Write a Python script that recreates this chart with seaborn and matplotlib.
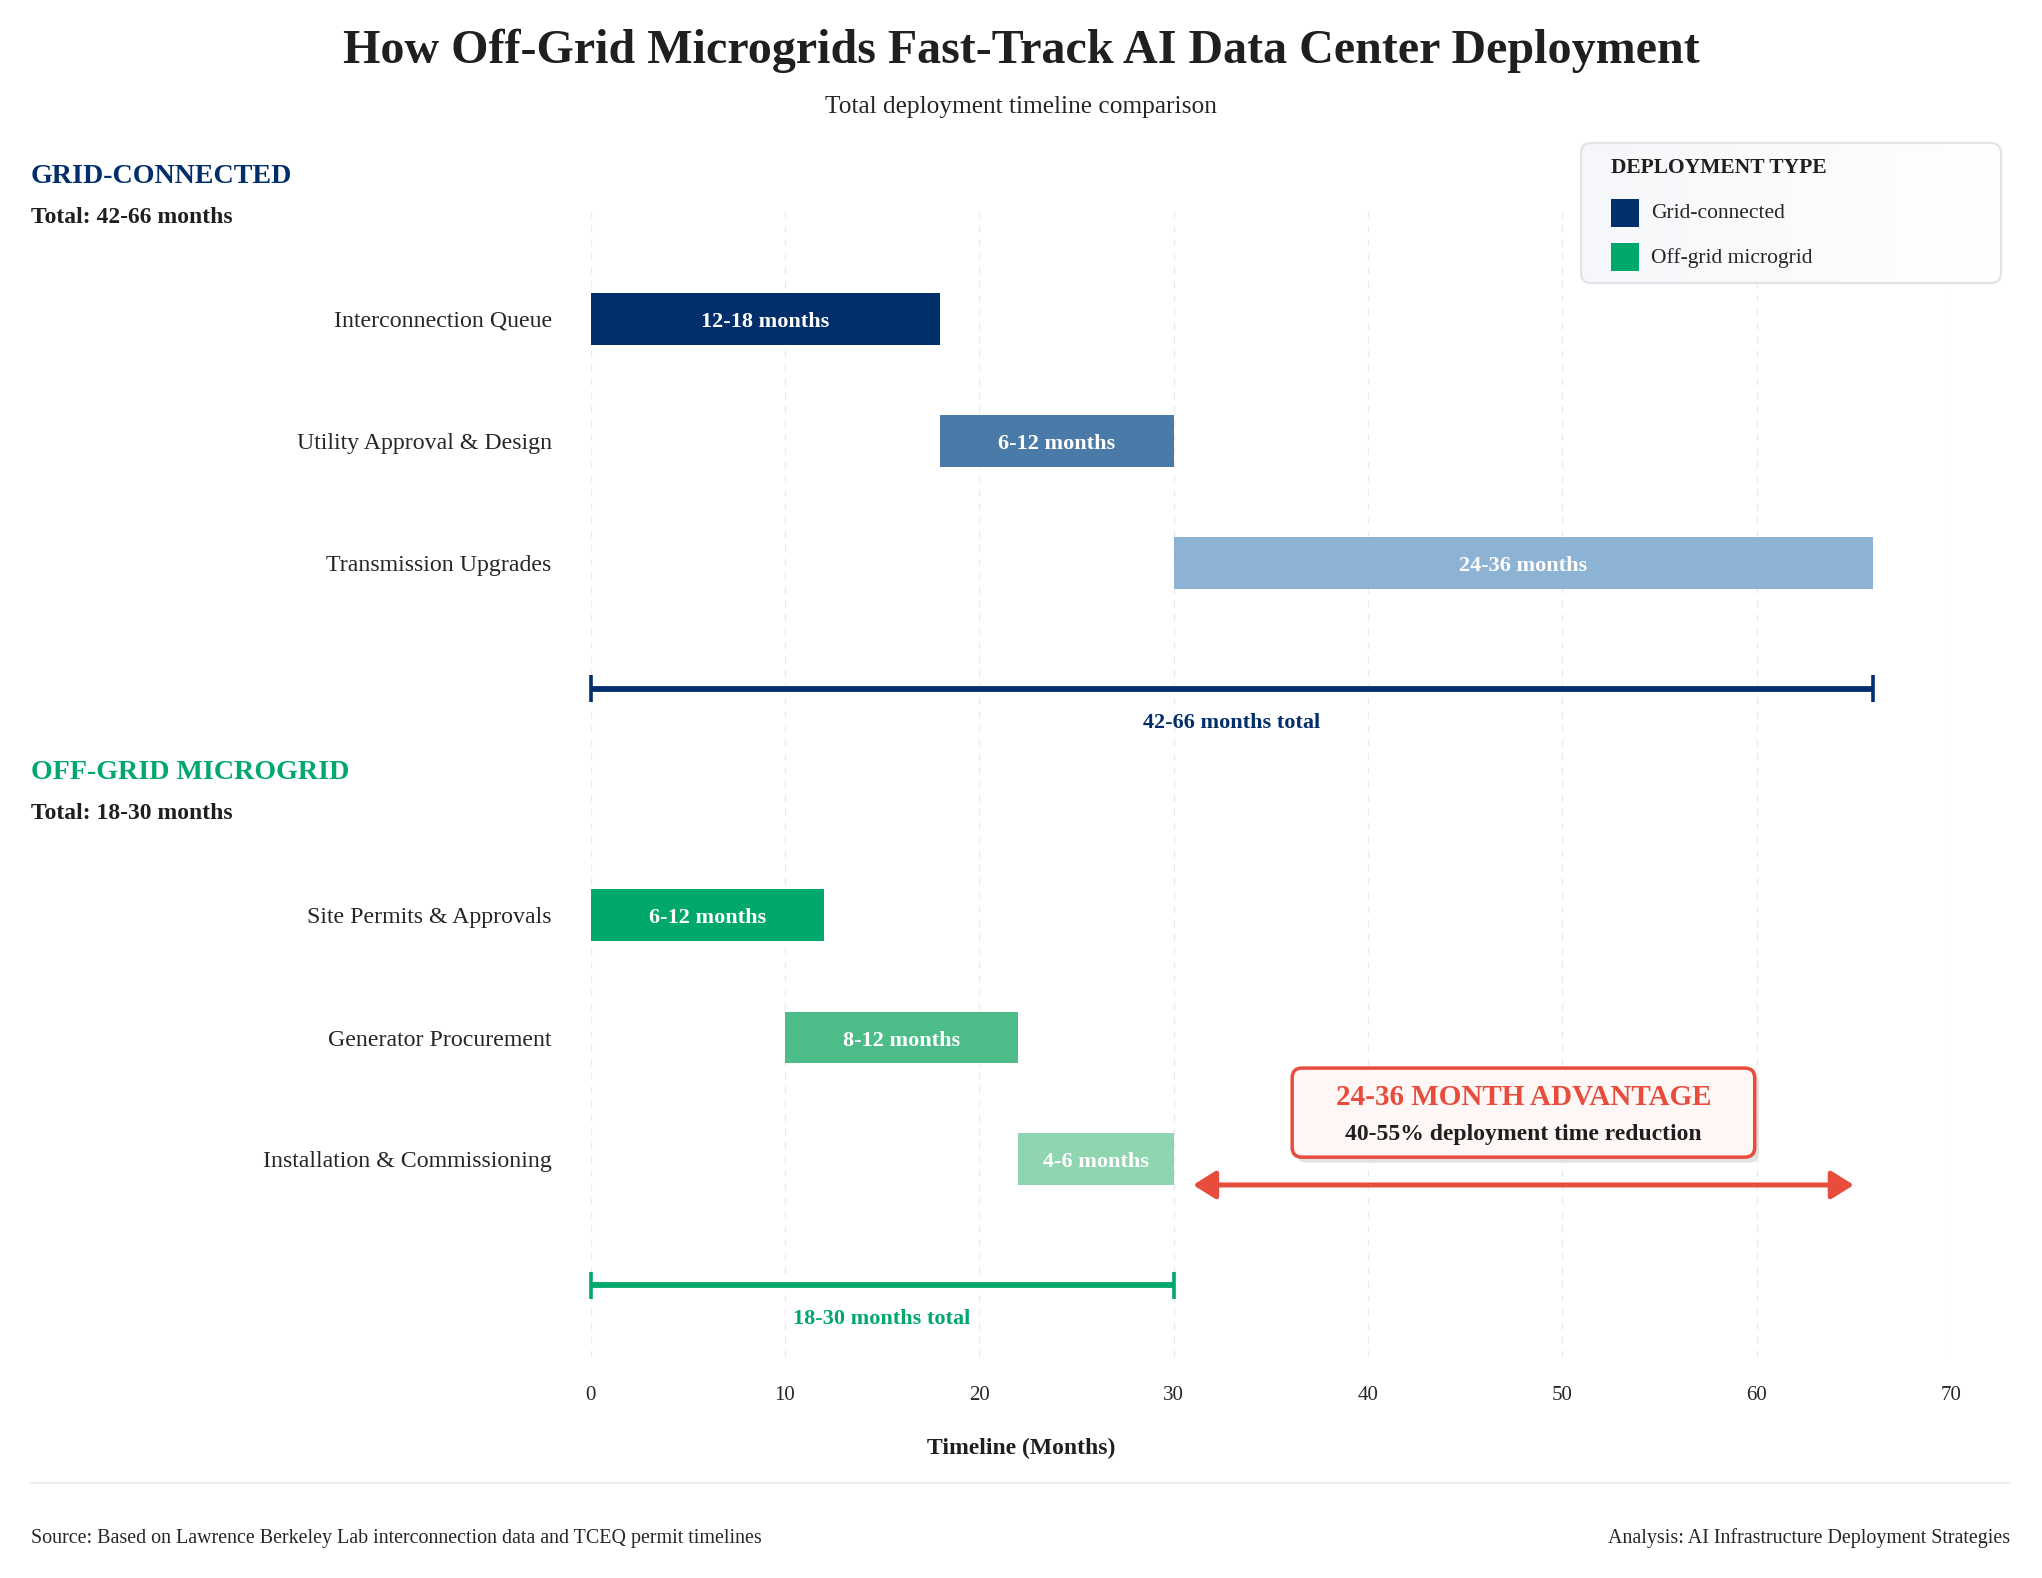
import numpy as np
import pandas as pd
import matplotlib.pyplot as plt
import seaborn as sns
from matplotlib.patches import FancyBboxPatch, Rectangle
from matplotlib.lines import Line2D

# ---- data (months) ----
grid_tasks = ['Interconnection Queue', 'Utility Approval & Design', 'Transmission Upgrades']
grid_start = [0, 18, 30]
grid_end = [18, 30, 66]
grid_labels = ['12-18 months', '6-12 months', '24-36 months']
grid_colors = ['#022f6b', '#4a7aa7', '#8db3d4']

offgrid_tasks = ['Site Permits & Approvals', 'Generator Procurement', 'Installation & Commissioning']
offgrid_start = [0, 10, 22]
offgrid_end = [12, 22, 30]
offgrid_labels = ['6-12 months', '8-12 months', '4-6 months']
offgrid_colors = ['#00a86b', '#4cbc88', '#8fd5b0']

grid_total = [0, 66]
offgrid_total = [0, 30]
grid_total_label = '42-66 months total'
offgrid_total_label = '18-30 months total'
advantage_span = [31, 65]
advantage_center = 48
xticks = [0, 10, 20, 30, 40, 50, 60, 70]
legend_labels = ['Grid-connected', 'Off-grid microgrid']

# row layout (vertical slots on the timeline axis)
grid_pos = [0, 1, 2]
offgrid_pos = [4.885, 5.89, 6.885]
grid_total_pos = 3.03
offgrid_total_pos = 7.92
arrow_pos = 7.098

NAVY = '#022f6b'
GREEN = '#00a86b'
RED = '#e74c3c'
DARK = '#1f1f1f'

df = pd.DataFrame({
    'task': grid_tasks + offgrid_tasks,
    'start': grid_start + offgrid_start,
    'end': grid_end + offgrid_end,
    'label': grid_labels + offgrid_labels,
    'color': grid_colors + offgrid_colors,
    'pos': grid_pos + offgrid_pos,
})
df['duration'] = df['end'] - df['start']

sns.set_theme(style='white')
plt.rcParams['font.family'] = ['Liberation Serif', 'DejaVu Serif']
plt.rcParams['font.serif'] = ['Liberation Serif']

W, H = 2042, 1578
fig = plt.figure(figsize=(W / 100, H / 100), dpi=100)
fig.patch.set_facecolor('white')


def fx(px):
    return px / W


def fy(px):
    return 1 - px / H


ax_left, ax_right, ax_top, ax_bottom = 590.6, 1951, 210, 1357
ax = fig.add_axes([fx(ax_left), fy(ax_bottom), (ax_right - ax_left) / W, (ax_bottom - ax_top) / H])

# Gantt bars through seaborn (durations), then shifted to their start month
sns.barplot(data=df, x='duration', y='pos', orient='y', native_scale=True,
            width=0.426, errorbar=None, color=NAVY, ax=ax)
bars = sorted(ax.patches, key=lambda p: p.get_y())
for patch, (_, r) in zip(bars, df.sort_values('pos').iterrows()):
    patch.set_x(r['start'])
    patch.set_width(r['duration'])
    patch.set_facecolor(r['color'])
    patch.set_edgecolor('none')

for _, r in df.iterrows():
    ax.text((r['start'] + r['end']) / 2, r['pos'] + 0.025, r['label'], ha='center', va='center',
            color='white', fontsize=16, fontweight='bold')

ax.set_xlim(0, 70)
ax.set_ylim(8.508, -0.893)
ax.set_xticks(xticks)
ax.set_xticklabels([str(t) for t in xticks], fontsize=15, color='#262626')
ax.set_yticks(grid_pos + offgrid_pos)
ax.set_yticklabels(grid_tasks + offgrid_tasks, fontsize=17.2, color='#262626')
ax.tick_params(axis='x', length=0, pad=21)
ax.tick_params(axis='y', length=0, pad=28)
ax.set_xlabel('')
ax.set_ylabel('')
ax.grid(axis='x', color='#ebebeb', linestyle=(0, (5, 5)), linewidth=1.0)
ax.grid(axis='y', visible=False)
ax.set_axisbelow(True)
sns.despine(ax=ax, left=True, bottom=True)

# total brackets
cap = 0.112
for (a, b), ypos, col, lab in [(grid_total, grid_total_pos, NAVY, grid_total_label),
                               (offgrid_total, offgrid_total_pos, GREEN, offgrid_total_label)]:
    ax.plot([a, b], [ypos, ypos], color=col, lw=4.2, solid_capstyle='butt', clip_on=False, zorder=3)
    ax.vlines([a, b], ypos - cap, ypos + cap, color=col, lw=2.6, clip_on=False, zorder=3)
    ax.text((a + b) / 2, ypos + 0.28, lab, ha='center', va='center', color=col,
            fontsize=16, fontweight='bold')

# advantage arrow
ax.annotate('', xy=(advantage_span[1], arrow_pos), xytext=(advantage_span[0], arrow_pos),
            arrowprops=dict(arrowstyle='<|-|>,head_length=0.4,head_width=0.25', mutation_scale=34,
                            lw=3.6, color=RED, shrinkA=0, shrinkB=0), zorder=4)

# advantage callout box
asp = ((ax_right - ax_left) / 70) / ((ax_bottom - ax_top) / (8.508 + 0.893))
bx0, bx1, by0, by1 = 36.1, 59.9, 6.14, 6.87
shadow = FancyBboxPatch((bx0 + 0.22, by0 + 0.045), bx1 - bx0, by1 - by0,
                        boxstyle='round,pad=0,rounding_size=0.5', mutation_aspect=asp,
                        facecolor='#d6d6d6', edgecolor='none', alpha=0.7, zorder=4)
box = FancyBboxPatch((bx0, by0), bx1 - bx0, by1 - by0,
                     boxstyle='round,pad=0,rounding_size=0.5', mutation_aspect=asp,
                     facecolor='#fff7f5', edgecolor=RED, lw=2.5, zorder=5)
ax.add_patch(shadow)
ax.add_patch(box)
ax.text(advantage_center, 6.38, '24-36 MONTH ADVANTAGE', ha='center', va='center',
        color=RED, fontsize=21, fontweight='bold', zorder=6)
ax.text(advantage_center, 6.685, '40-55% deployment time reduction', ha='center', va='center',
        color=DARK, fontsize=17, fontweight='bold', zorder=6)

# titles
fig.text(0.5, fy(63.3), 'How Off-Grid Microgrids Fast-Track AI Data Center Deployment',
         ha='center', va='baseline', fontsize=34.6, fontweight='bold', color=DARK)
fig.text(0.5, fy(112.7), 'Total deployment timeline comparison',
         ha='center', va='baseline', fontsize=18.3, color='#262626')

# section headers
fig.text(fx(31), fy(183), 'GRID-CONNECTED', fontsize=20.2, fontweight='bold', color=NAVY, va='baseline')
fig.text(fx(31), fy(222.7), 'Total: 42-66 months', fontsize=17, fontweight='bold', color=DARK, va='baseline')
fig.text(fx(31), fy(779.3), 'OFF-GRID MICROGRID', fontsize=20.2, fontweight='bold', color=GREEN, va='baseline')
fig.text(fx(31), fy(819.3), 'Total: 18-30 months', fontsize=17, fontweight='bold', color=DARK, va='baseline')

# legend box with a faint left-to-right gradient
leg_box = FancyBboxPatch((fx(1581), fy(283)), 420 / W, 140 / H,
                         boxstyle='round,pad=0,rounding_size=%f' % (10 / W),
                         mutation_aspect=W / H, transform=fig.transFigure,
                         facecolor='none', edgecolor='#e2e3e8', lw=1.6, zorder=3)
grad_ax = fig.add_axes([fx(1581), fy(283), 420 / W, 140 / H], zorder=2)
grad_ax.imshow(np.linspace(0, 1, 256)[None, :], aspect='auto', extent=[0, 1, 0, 1],
               cmap=sns.blend_palette(['#f6f7fa', '#ffffff'], as_cmap=True))
grad_ax.axis('off')
fig.add_artist(leg_box)
grad_ax.images[0].set_clip_path(leg_box)
fig.text(fx(1611), fy(173.3), 'DEPLOYMENT TYPE', fontsize=15.5, fontweight='bold', color=DARK,
         va='baseline', zorder=4)
for lab, col, ytop, ybase in zip(legend_labels, [grid_colors[0], offgrid_colors[0]], [227, 271], [218.3, 263.3]):
    fig.add_artist(Rectangle((fx(1611), fy(ytop)), 28 / W, 28 / H, transform=fig.transFigure,
                             facecolor=col, edgecolor='none', zorder=4))
    fig.text(fx(1651), fy(ybase), lab, fontsize=15.5, color='#262626', va='baseline', zorder=4)

# axis label
fig.text(0.5, fy(1454.3), 'Timeline (Months)', ha='center', va='baseline',
         fontsize=17, fontweight='bold', color=DARK)

# footer
fig.add_artist(Line2D([fx(31), fx(2010)], [fy(1483), fy(1483)], transform=fig.transFigure,
                      color='#eeeeee', lw=1.5))
fig.text(fx(31), fy(1542.7), 'Source: Based on Lawrence Berkeley Lab interconnection data and TCEQ permit timelines',
         fontsize=14.4, color='#262626', va='baseline')
fig.text(fx(2010), fy(1542.7), 'Analysis: AI Infrastructure Deployment Strategies',
         fontsize=14.4, color='#262626', va='baseline', ha='right')

fig.savefig('out.png', dpi=100, facecolor='white')
